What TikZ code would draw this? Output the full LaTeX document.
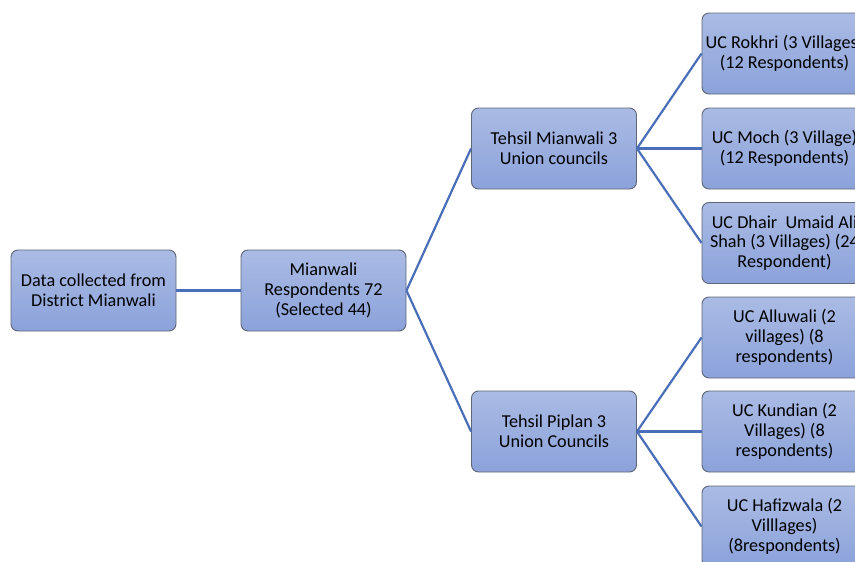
\documentclass[tikz,border=0pt]{standalone}
\usepackage{fontspec}
\setmainfont{Carlito}
\begin{document}
\begin{tikzpicture}[x=1pt,y=-1pt,
  box/.style={draw=boxline, line width=0.9pt, rounded corners=7pt, top color=boxtop, bottom color=boxbot,
    minimum width=165pt, minimum height=81pt, align=center, font=\fontsize{18.2}{19.8}\selectfont, inner sep=2pt},
  link/.style={draw=linkblue, line width=2.2pt}]
\definecolor{boxtop}{HTML}{AABBE4}
\definecolor{boxbot}{HTML}{8BA2DA}
\definecolor{boxline}{HTML}{5E6677}
\definecolor{linkblue}{HTML}{4A6FB8}
\useasboundingbox (0,0) rectangle (855,562);
\clip (0,0) rectangle (855,562);
\fill[white] (0,0) rectangle (855,562);
\node[box] (a) at (93.5,290.5) {Data collected from\\District Mianwali};
\node[box] (b) at (323.5,290.5) {Mianwali\\Respondents 72\\(Selected 44)};
\node[box] (c) at (554,148.5) {Tehsil Mianwali 3\\Union councils};
\node[box] (d) at (554,431.5) {Tehsil Piplan 3\\Union Councils};
\node[box] (e1) at (784.5,53.5) {UC Rokhri (3 Villages)\\(12 Respondents)};
\node[box] (e2) at (784.5,148.5) {UC Moch (3 Village)\\(12 Respondents)};
\node[box] (e3) at (784.5,243) {UC Dhair~ Umaid Ali\\Shah (3 Villages) (24\\Respondent)};
\node[box] (f1) at (784.5,337.5) {UC Alluwali (2\\villages) (8\\respondents)};
\node[box] (f2) at (784.5,431.5) {UC Kundian (2\\Villages) (8\\respondents)};
\node[box] (f3) at (784.5,526.5) {UC Hafizwala (2\\Villlages)\\(8respondents)};
\draw[link] (a.east) -- (b.west);
\draw[link] (b.east) -- (c.west);
\draw[link] (b.east) -- (d.west);
\foreach \t in {e1,e2,e3} \draw[link] (c.east) -- (\t.west);
\foreach \t in {f1,f2,f3} \draw[link] (d.east) -- (\t.west);
\end{tikzpicture}
\end{document}
